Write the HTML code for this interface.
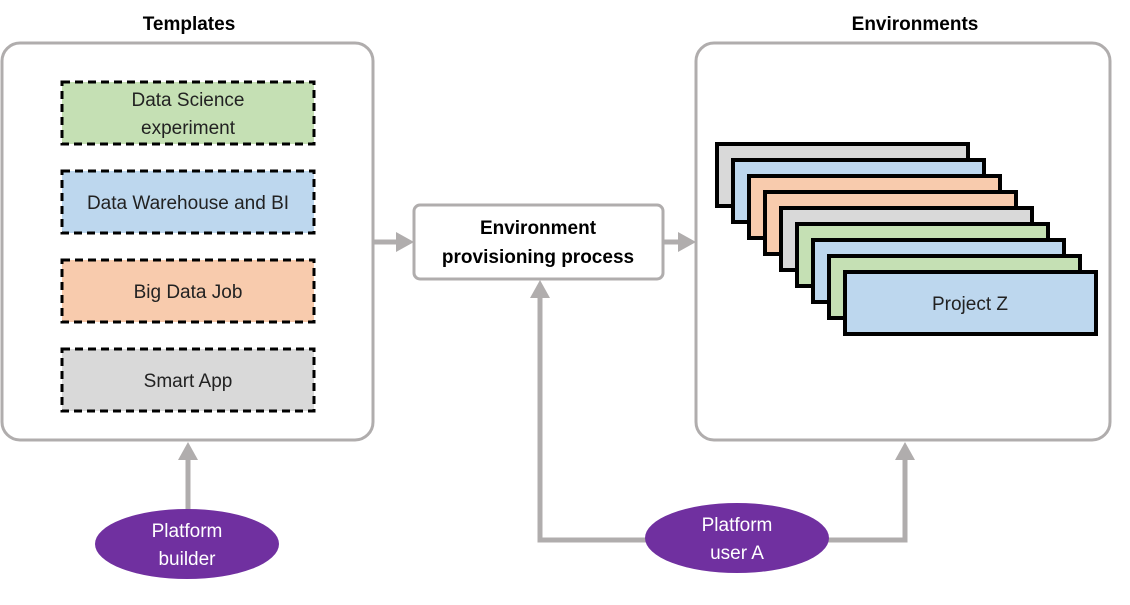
<!DOCTYPE html>
<html><head><meta charset="utf-8"><style>
body{margin:0;background:#fff}
text{font-family:"Liberation Sans",sans-serif}
</style></head><body>
<svg width="1130" height="600" viewBox="0 0 1130 600" xmlns="http://www.w3.org/2000/svg">
<rect x="0" y="0" width="1130" height="600" fill="#fff"/>
<text x="189" y="30" font-size="19" font-weight="bold" text-anchor="middle">Templates</text>
<text x="915" y="30" font-size="19" font-weight="bold" text-anchor="middle">Environments</text>
<rect x="2" y="43" width="371" height="397" rx="18" fill="#fff" stroke="#b0adad" stroke-width="3"/>
<rect x="696" y="43" width="414" height="397" rx="18" fill="#fff" stroke="#b0adad" stroke-width="3"/>
<g stroke="#000" stroke-width="3" stroke-dasharray="8,5">
<rect x="62" y="82" width="252" height="62" fill="#c5e0b4"/>
<rect x="62" y="171" width="252" height="62" fill="#bdd7ee"/>
<rect x="62" y="260" width="252" height="62" fill="#f8cbad"/>
<rect x="62" y="349" width="252" height="62" fill="#d9d9d9"/>
</g>
<g font-size="19" text-anchor="middle" fill="#222">
<text x="188" y="106">Data Science</text>
<text x="188" y="134">experiment</text>
<text x="188" y="209">Data Warehouse and BI</text>
<text x="188" y="298">Big Data Job</text>
<text x="188" y="387">Smart App</text>
</g>
<g stroke="#000" stroke-width="4">
<rect x="717" y="144" width="251" height="62" fill="#d9d9d9"/>
<rect x="733" y="160" width="251" height="62" fill="#bdd7ee"/>
<rect x="749" y="176" width="251" height="62" fill="#f8cbad"/>
<rect x="765" y="192" width="251" height="62" fill="#f8cbad"/>
<rect x="781" y="208" width="251" height="62" fill="#d9d9d9"/>
<rect x="797" y="224" width="251" height="62" fill="#c5e0b4"/>
<rect x="813" y="240" width="251" height="62" fill="#bdd7ee"/>
<rect x="829" y="256" width="251" height="62" fill="#c5e0b4"/>
<rect x="845" y="272" width="251" height="62" fill="#bdd7ee"/>
</g>
<text x="970" y="310" font-size="19" text-anchor="middle" fill="#222">Project Z</text>
<rect x="414" y="205" width="249" height="74" rx="6" fill="#fff" stroke="#b0adad" stroke-width="3"/>
<text x="538" y="234" font-size="19" font-weight="bold" text-anchor="middle">Environment</text>
<text x="538" y="263" font-size="19" font-weight="bold" text-anchor="middle">provisioning process</text>
<g stroke="#b0adad" stroke-width="5" fill="none">
<line x1="374" y1="242" x2="398" y2="242"/>
<line x1="664" y1="242" x2="680" y2="242"/>
<line x1="188" y1="510" x2="188" y2="458"/>
<polyline points="650,540 540,540 540,296"/>
<polyline points="825,540 905,540 905,458"/>
</g>
<g fill="#b0adad">
<polygon points="396,232 414,242 396,252"/>
<polygon points="678,232 696,242 678,252"/>
<polygon points="178,460 188,442 198,460"/>
<polygon points="530,298 540,280 550,298"/>
<polygon points="895,460 905,442 915,460"/>
</g>
<ellipse cx="187" cy="544" rx="92" ry="35" fill="#7030a0"/>
<text x="187" y="537" font-size="19" fill="#fff" text-anchor="middle">Platform</text>
<text x="187" y="565" font-size="19" fill="#fff" text-anchor="middle">builder</text>
<ellipse cx="737" cy="538" rx="92" ry="35" fill="#7030a0"/>
<text x="737" y="531" font-size="19" fill="#fff" text-anchor="middle">Platform</text>
<text x="737" y="559" font-size="19" fill="#fff" text-anchor="middle">user A</text>
</svg>
</body></html>
